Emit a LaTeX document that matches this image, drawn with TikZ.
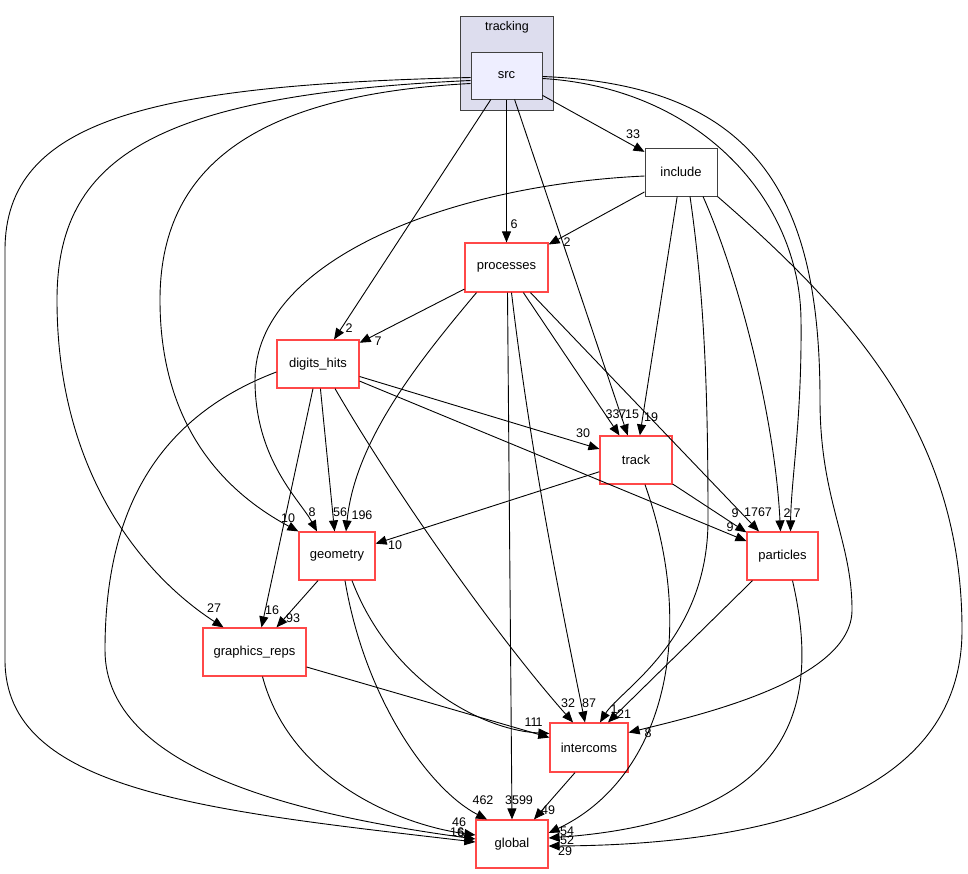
\documentclass[tikz,border=0pt]{standalone}
\usepackage{fontspec}
\setmainfont{Liberation Sans}
\usetikzlibrary{arrows.meta}
\definecolor{boxred}{RGB}{255,72,72}
\definecolor{clusterfill}{RGB}{221,221,238}
\definecolor{srcfill}{RGB}{238,238,255}
\definecolor{framegray}{RGB}{64,64,64}
\begin{document}
\begin{tikzpicture}[x=1pt,y=-1pt,
  txt/.style={font=\fontsize{13}{15}\selectfont},
  dirbox/.style={txt, draw=boxred, line width=1.2pt, fill=white, inner sep=0, minimum height=48pt},
  dep/.style={draw=black, line width=0.9pt, -{Triangle[length=11pt,width=9pt]}},
  lbl/.style={font=\fontsize{12.5}{14}\selectfont, inner sep=0}]
\useasboundingbox (0,0) rectangle (968,873);
% cluster and nodes
\node[draw=framegray, fill=clusterfill, line width=1pt, minimum width=93pt, minimum height=94pt, inner sep=0] (tracking) at (506.5,63) {};
\node[lbl] (trackinglbl) at (507,27) {tracking};
\node[txt, draw=framegray, fill=srcfill, line width=1pt, minimum width=71pt, minimum height=47pt, inner sep=0] (src) at (506.5,75.5) {src};
\node[txt, draw=framegray, fill=white, line width=1pt, minimum width=72pt, minimum height=48pt, inner sep=0] (include) at (681,172) {include};
\node[dirbox, minimum width=83pt, minimum height=49pt] (processes) at (506.5,267.5) {processes};
\node[dirbox, minimum width=82pt] (digits) at (318,364) {digits\_hits};
\node[dirbox, minimum width=72pt] (track) at (636,460) {track};
\node[dirbox, minimum width=76pt] (geometry) at (337,556) {geometry};
\node[dirbox, minimum width=71pt] (particles) at (782.5,556) {particles};
\node[dirbox, minimum width=103pt] (graphics) at (254.5,652) {graphics\_reps};
\node[dirbox, minimum width=78pt, minimum height=49pt] (intercoms) at (589,747.5) {intercoms};
\node[dirbox, minimum width=72pt] (global) at (512,844) {global};
% src edges
\draw[dep] (src) -- (include);
\draw[dep] (src) -- (processes);
\draw[dep] (src) -- (digits);
\draw[dep] (src) -- (track);
\draw[dep] ([yshift=-8]src.west) .. controls (250,95) and (160,170) .. (160,300) .. controls (160,440) and (240,500) .. (geometry.north west);
\draw[dep] ([yshift=-5]src.west) .. controls (150,95) and (57,160) .. (57,300) .. controls (57,480) and (150,580) .. ([xshift=-31]graphics.north);
\draw[dep] ([yshift=-2]src.west) .. controls (150,85) and (5,120) .. (5,250) -- (5,660) .. controls (5,790) and (200,810) .. ([yshift=2]global.west);
\draw[dep] ([yshift=-3]src.east) .. controls (700,88) and (800,200) .. (801,320) .. controls (802,420) and (791,480) .. ([xshift=8]particles.north);
\draw[dep] ([yshift=-1]src.east) .. controls (760,85) and (820,200) .. (820,400) .. controls (820,500) and (852,540) .. (852,610) .. controls (852,680) and (700,715) .. ([yshift=15]intercoms.east);
% include edges
\draw[dep] (include) -- (processes);
\draw[dep] (include) -- (track);
\draw[dep] ([yshift=-4]include.west) .. controls (450,185) and (255,260) .. (255,380) .. controls (255,460) and (300,500) .. ([xshift=-20]geometry.north);
\draw[dep] ([xshift=9]include.south) .. controls (705,300) and (708,400) .. (708,520) .. controls (708,640) and (620,690) .. ([xshift=11]intercoms.north);
\draw[dep] ([xshift=22]include.south) .. controls (740,280) and (775,420) .. ([xshift=-2]particles.north);
\draw[dep] (include.south east) .. controls (860,320) and (962,440) .. (962,630) .. controls (962,800) and (760,845) .. ([yshift=-2]global.east);
% processes edges
\draw[dep] (processes) -- (digits);
\draw[dep] ([xshift=-30]processes.south) .. controls (420,360) and (355,440) .. ([xshift=9]geometry.north);
\draw[dep] (processes) -- (track);
\draw[dep] (processes) -- (particles);
\draw[dep] ([xshift=5]processes.south) .. controls (530,450) and (560,600) .. ([xshift=-4]intercoms.north);
\draw[dep] ([xshift=1]processes.south) -- (global.north);
% digits_hits edges
\draw[dep] (digits) -- (geometry);
\draw[dep] ([xshift=-5]digits.south) -- ([xshift=7]graphics.north);
\draw[dep] (digits) -- (track);
\draw[dep] (digits) -- (particles);
\draw[dep] ([xshift=17]digits.south) .. controls (400,500) and (500,640) .. ([xshift=-16]intercoms.north);
\draw[dep] ([yshift=-8]digits.west) .. controls (150,420) and (105,520) .. (105,650) .. controls (105,770) and (300,815) .. ([yshift=5]global.west);
% track edges
\draw[dep] (track) -- (geometry);
\draw[dep] (track) -- (particles);
\draw[dep] ([xshift=9]track.south) .. controls (700,640) and (660,780) .. ([yshift=11]global.east);
% geometry edges
\draw[dep] ([xshift=-19]geometry.south) -- ([xshift=22]graphics.north);
\draw[dep] ([xshift=15]geometry.south) .. controls (390,680) and (480,730) .. ([yshift=14]intercoms.west);
\draw[dep] ([xshift=8]geometry.south) .. controls (365,700) and (430,790) .. ([xshift=-25]global.north);
% particles edges
\draw[dep] ([xshift=-30]particles.south) -- ([xshift=19]intercoms.north);
\draw[dep] ([xshift=10]particles.south) .. controls (820,700) and (800,820) .. ([yshift=6]global.east);
% graphics_reps edges
\draw[dep] ([yshift=-15]graphics.east) -- ([yshift=10]intercoms.west);
\draw[dep] ([xshift=8]graphics.south) .. controls (290,780) and (400,825) .. ([yshift=9]global.west);
% intercoms edge
\draw[dep] ([xshift=-14]intercoms.south) -- ([xshift=22]global.north);
% labels
\node[lbl] (l1) at (633,134) {33};
\node[lbl] (l2) at (514,224) {6};
\node[lbl] (l3) at (349,328) {2};
\node[lbl] (l4) at (378,341) {7};
\node[lbl] (l5) at (567,242) {2};
\node[lbl] (l6) at (616,414) {337};
\node[lbl] (l7) at (632,414) {15};
\node[lbl] (l8) at (651,417) {19};
\node[lbl] (l9) at (583,433) {30};
\node[lbl] (l10) at (288,518) {10};
\node[lbl] (l11) at (312,512) {8};
\node[lbl] (l12) at (340,512) {56};
\node[lbl] (l13) at (362,515) {196};
\node[lbl] (l14) at (395,545) {10};
\node[lbl] (l15) at (735,513) {9};
\node[lbl] (l16) at (730,527) {9};
\node[lbl] (l17) at (758,512) {1767};
\node[lbl] (l18) at (787,513) {2};
\node[lbl] (l19) at (797,513) {7};
\node[lbl] (l20) at (214,608) {27};
\node[lbl] (l21) at (272,610) {16};
\node[lbl] (l22) at (293,618) {93};
\node[lbl] (l23) at (531,722) {11};
\node[lbl] (l24) at (539,722) {1};
\node[lbl] (l25) at (568,703) {32};
\node[lbl] (l26) at (589,703) {87};
\node[lbl] (l27) at (614,709) {1};
\node[lbl] (l28) at (624,714) {21};
\node[lbl] (l29) at (648,733) {8};
\node[lbl] (l30) at (483,800) {462};
\node[lbl] (l31) at (519,800) {3599};
\node[lbl] (l32) at (548,810) {49};
\node[lbl] (l33) at (459,822) {46};
\node[lbl] (l34) at (457,832) {16};
\node[lbl] (l35) at (461,833) {6};
\node[lbl] (l36) at (567,831) {54};
\node[lbl] (l37) at (567,840) {52};
\node[lbl] (l38) at (565,851) {29};
\end{tikzpicture}
\end{document}
